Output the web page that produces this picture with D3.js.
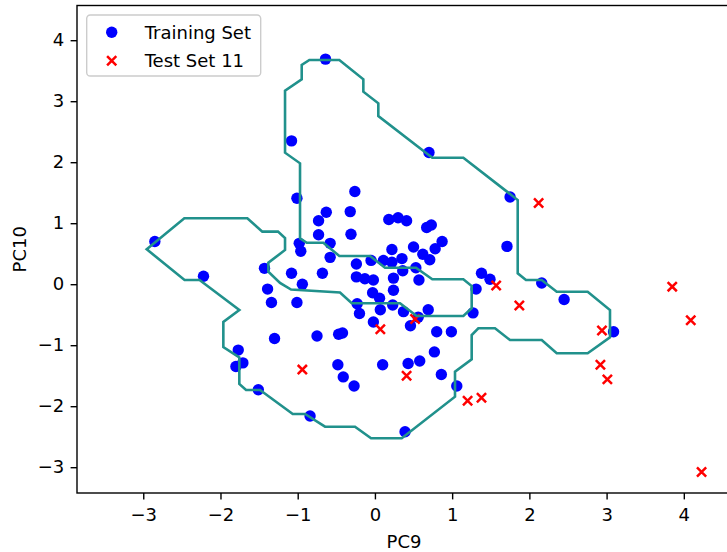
<!DOCTYPE html>
<html>
<head>
<meta charset="utf-8">
<script src="https://cdn.jsdelivr.net/npm/d3@7"></script>
<style>
  html, body { margin: 0; padding: 0; background: #fff; }
  svg { display: block; font-family: "DejaVu Sans", sans-serif; }
</style>
</head>
<body>
<svg id="chart" width="727" height="552"></svg>
<script>
// Training samples projected onto PC9 / PC10
const trainPC9 = [-0.64,-1.08,0.70,-1.01,-0.26,1.75,-0.63,-0.73,-0.32,-0.31,-0.73,0.18,0.30,0.41,0.67,0.73,-2.85,-0.98,-0.96,-0.58,0.22,0.50,0.87,0.78,1.71,0.62,0.71,-0.58,0.35,-0.24,-0.05,0.11,0.22,-2.22,-1.43,-1.39,-1.34,-1.08,-0.94,-0.68,-1.01,-0.24,-0.13,-0.02,0.24,0.36,0.53,0.57,0.24,1.38,1.49,1.31,2.16,2.45,1.27,3.09,-0.23,-0.03,0.06,-0.20,0.07,0.23,0.37,0.69,0.56,0.46,-0.02,-1.30,-0.75,-0.47,-0.42,0.80,0.99,0.77,-0.48,-0.41,-0.27,0.10,0.43,0.58,0.86,1.06,-0.84,-1.77,-1.80,-1.71,-1.51,0.39];
const trainPC10 = [3.69,2.35,2.16,1.41,1.52,1.43,1.18,1.04,1.19,0.82,0.81,1.06,1.09,1.04,0.93,0.97,0.70,0.67,0.54,0.67,0.57,0.61,0.70,0.58,0.62,0.49,0.40,0.44,0.42,0.33,0.39,0.39,0.36,0.13,0.26,-0.08,-0.30,0.18,0.00,0.18,-0.30,0.12,0.09,0.07,0.10,0.22,0.27,0.07,-0.10,0.18,0.08,-0.08,0.02,-0.25,-0.47,-0.78,-0.32,-0.14,-0.23,-0.48,-0.42,-0.34,-0.45,-0.42,-0.54,-0.68,-0.62,-0.89,-0.85,-0.82,-0.80,-0.78,-0.78,-1.11,-1.32,-1.52,-1.67,-1.32,-1.30,-1.26,-1.48,-1.67,-2.16,-1.08,-1.35,-1.29,-1.73,-2.42];

// Test set 11
const testPC9 = [2.12,1.57,1.87,0.52,0.07,-0.94,0.41,1.20,1.38,2.94,2.92,3.01,3.85,4.09,4.23];
const testPC10 = [1.33,-0.02,-0.35,-0.57,-0.74,-1.40,-1.50,-1.91,-1.86,-0.76,-1.32,-1.56,-0.04,-0.59,-3.08];

// Decision boundary (closed contour)
const boundaryPC9 = [-2.955,-2.468,-1.652,-1.458,-1.255,-1.164,-1.164,-1.380,-1.380,-1.229,-1.086,-0.452,-0.300,0.325,0.541,1.145,1.253,1.253,1.145,0.743,0.532,0.131,-0.063,-0.461,-0.668,-0.883,-0.970,-0.970,-1.164,-1.164,-0.948,-0.948,-0.849,-0.461,-0.150,-0.150,0.044,0.044,0.743,1.145,1.849,1.849,1.956,2.160,2.354,2.755,3.044,3.044,2.755,2.354,2.160,1.749,1.555,1.339,1.253,1.253,1.037,1.037,0.347,-0.050,-0.258,-0.646,-0.905,-1.064,-1.488,-1.669,-1.756,-1.756,-1.963,-1.963,-1.756,-2.271,-2.465];
const boundaryPC10 = [0.572,1.080,1.080,0.862,0.862,0.757,0.561,0.352,0.205,0.020,-0.087,-0.136,-0.313,-0.313,-0.521,-0.521,-0.395,-0.030,0.080,0.080,0.270,0.270,0.462,0.462,0.680,0.680,0.752,1.982,2.156,3.172,3.359,3.593,3.675,3.675,3.359,3.156,2.966,2.757,2.074,2.074,1.380,0.179,0.069,0.069,-0.123,-0.123,-0.423,-0.870,-1.133,-1.133,-0.915,-0.915,-0.723,-0.723,-0.833,-1.231,-1.434,-1.844,-2.526,-2.526,-2.336,-2.336,-2.128,-2.128,-1.734,-1.734,-1.636,-1.202,-1.029,-0.620,-0.423,0.069,0.069];

const xTicks = [-3,-2,-1,0,1,2,3,4];
const yTicks = [-3,-2,-1,0,1,2,3,4];
const xLimits = [-3.858, 4.611];
const yLimits = [-3.423, 4.569];

const legendLabels = ["Training Set", "Test Set 11"];

const plot = { left: 77, top: 5.5, right: 731, bottom: 493 };
const FONT = 18;

const svg = d3.select("#chart");

const x = d3.scaleLinear().domain(xLimits).range([plot.left, plot.right]);
const y = d3.scaleLinear().domain(yLimits).range([plot.bottom, plot.top]);

svg.append("defs").append("clipPath").attr("id", "plot-clip")
  .append("rect")
  .attr("x", plot.left).attr("y", plot.top)
  .attr("width", plot.right - plot.left).attr("height", plot.bottom - plot.top);

const body = svg.append("g").attr("clip-path", "url(#plot-clip)");

// training points
const train = trainPC9.map((v, i) => [v, trainPC10[i]]);
body.append("g").selectAll("circle").data(train).join("circle")
  .attr("cx", d => x(d[0]))
  .attr("cy", d => y(d[1]))
  .attr("r", 5.7)
  .attr("fill", "#0000ff");

// test points as crosses
const crossPath = (cx, cy, s) =>
  `M${cx - s},${cy - s}L${cx + s},${cy + s}M${cx - s},${cy + s}L${cx + s},${cy - s}`;
const test = testPC9.map((v, i) => [v, testPC10[i]]);
body.append("g").selectAll("path").data(test).join("path")
  .attr("d", d => crossPath(x(d[0]), y(d[1]), 4.6))
  .attr("stroke", "#ff0000")
  .attr("stroke-width", 2.5)
  .attr("fill", "none");

// decision boundary on top
const boundary = boundaryPC9.map((v, i) => [v, boundaryPC10[i]]);
body.append("path")
  .datum(boundary)
  .attr("d", d3.line().x(d => x(d[0])).y(d => y(d[1])).curve(d3.curveLinearClosed))
  .attr("fill", "none")
  .attr("stroke", "#21918c")
  .attr("stroke-width", 2.6)
  .attr("stroke-linejoin", "miter");

// frame
svg.append("rect")
  .attr("x", plot.left).attr("y", plot.top)
  .attr("width", plot.right - plot.left).attr("height", plot.bottom - plot.top)
  .attr("fill", "none").attr("stroke", "#000").attr("stroke-width", 1.4);

// axes
const fmt = d3.format("d");
const xAxis = svg.append("g")
  .attr("transform", `translate(0,${plot.bottom})`)
  .call(d3.axisBottom(x).tickValues(xTicks).tickFormat(fmt).tickSize(6.4).tickPadding(9));
const yAxis = svg.append("g")
  .attr("transform", `translate(${plot.left},0)`)
  .call(d3.axisLeft(y).tickValues(yTicks).tickFormat(fmt).tickSize(6.4).tickPadding(6.4));

[xAxis, yAxis].forEach(g => {
  g.select(".domain").remove();
  g.selectAll(".tick line").attr("stroke", "#000").attr("stroke-width", 1.4);
  g.selectAll(".tick text")
    .attr("fill", "#000")
    .style("font-family", "DejaVu Sans, sans-serif")
    .style("font-size", FONT + "px");
});

// axis titles
svg.append("text")
  .attr("x", (plot.left + plot.right) / 2)
  .attr("y", 548)
  .attr("text-anchor", "middle")
  .style("font-size", FONT + "px")
  .text("PC9");

svg.append("text")
  .attr("transform", `translate(26,${(plot.top + plot.bottom) / 2}) rotate(-90)`)
  .attr("text-anchor", "middle")
  .style("font-size", FONT + "px")
  .text("PC10");

// legend
const legend = svg.append("g");
legend.append("rect")
  .attr("x", 86.7).attr("y", 15)
  .attr("width", 174).attr("height", 61)
  .attr("rx", 3.6).attr("ry", 3.6)
  .attr("fill", "#fff").attr("fill-opacity", 0.8)
  .attr("stroke", "#cccccc").attr("stroke-width", 1.4);

const rowY = [32.3, 60.7];
legend.append("circle")
  .attr("cx", 111.7).attr("cy", rowY[0]).attr("r", 5.7)
  .attr("fill", "#0000ff");
legend.append("path")
  .attr("d", crossPath(111.7, rowY[1], 4.6))
  .attr("stroke", "#ff0000").attr("stroke-width", 2.5).attr("fill", "none");

legend.selectAll("text.lbl").data(legendLabels).join("text")
  .attr("class", "lbl")
  .attr("x", 144.7)
  .attr("y", (d, i) => rowY[i] + 6.4)
  .style("font-size", FONT + "px")
  .attr("fill", "#000")
  .text(d => d);
</script>
</body>
</html>
